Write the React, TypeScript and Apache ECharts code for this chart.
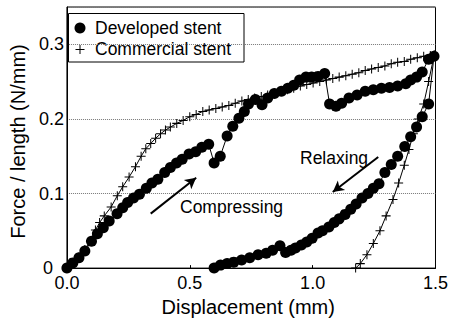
import React, { useEffect, useRef } from "react";
import * as echarts from "echarts";

// Developed stent: loading (compressing) then unloading (relaxing), [displacement mm, force N/mm]
const devLoading: number[][] = [
  [0, 0], [0.024, 0.007], [0.049, 0.014], [0.073, 0.023], [0.1, 0.036], [0.124, 0.046],
  [0.148, 0.054], [0.172, 0.063], [0.204, 0.073], [0.227, 0.081], [0.247, 0.088], [0.271, 0.094],
  [0.295, 0.099], [0.323, 0.107], [0.346, 0.114], [0.37, 0.119], [0.398, 0.128], [0.421, 0.135],
  [0.446, 0.141], [0.469, 0.146], [0.497, 0.153], [0.524, 0.156], [0.549, 0.162], [0.577, 0.166],
  [0.599, 0.141], [0.624, 0.15], [0.652, 0.177], [0.675, 0.19], [0.7, 0.201], [0.722, 0.21],
  [0.739, 0.22], [0.767, 0.226], [0.794, 0.219], [0.817, 0.228], [0.844, 0.234], [0.873, 0.237],
  [0.899, 0.241], [0.923, 0.245], [0.947, 0.252], [0.973, 0.256], [0.996, 0.256], [1.022, 0.257],
  [1.049, 0.261], [1.069, 0.22], [1.095, 0.217], [1.118, 0.221], [1.148, 0.228], [1.181, 0.232],
  [1.214, 0.237], [1.247, 0.239], [1.28, 0.241], [1.313, 0.242], [1.346, 0.244], [1.379, 0.247],
  [1.399, 0.252], [1.423, 0.256], [1.446, 0.263], [1.472, 0.28], [1.494, 0.284],
];
const devUnloading: number[][] = [
  [1.472, 0.22], [1.446, 0.203], [1.423, 0.189], [1.399, 0.176], [1.375, 0.163], [1.346, 0.15],
  [1.32, 0.139], [1.294, 0.128], [1.27, 0.113], [1.247, 0.107], [1.225, 0.1], [1.201, 0.094],
  [1.177, 0.086], [1.155, 0.079], [1.132, 0.072], [1.108, 0.066], [1.088, 0.061], [1.066, 0.055],
  [1.04, 0.05], [1.022, 0.047], [0.998, 0.04], [0.976, 0.035], [0.954, 0.031], [0.93, 0.027],
  [0.912, 0.024], [0.89, 0.021], [0.867, 0.03], [0.837, 0.024], [0.811, 0.02], [0.778, 0.018],
  [0.744, 0.014], [0.711, 0.011], [0.679, 0.008], [0.652, 0.006], [0.625, 0.004], [0.599, 0.0],
];

// Commercial stent
const comLoading: number[][] = [
  [0, 0], [0.025, 0.007], [0.049, 0.015], [0.073, 0.025], [0.096, 0.037], [0.116, 0.051],
  [0.133, 0.061], [0.152, 0.07], [0.18, 0.082], [0.205, 0.097], [0.227, 0.109], [0.253, 0.122],
  [0.279, 0.136], [0.302, 0.15], [0.321, 0.16], [0.341, 0.167], [0.361, 0.174], [0.381, 0.18],
  [0.401, 0.185], [0.421, 0.189], [0.447, 0.194], [0.473, 0.198], [0.5, 0.203], [0.526, 0.206],
  [0.553, 0.21], [0.579, 0.212], [0.606, 0.214], [0.632, 0.216], [0.659, 0.218], [0.685, 0.221],
  [0.712, 0.224], [0.738, 0.226], [0.764, 0.228], [0.791, 0.23], [0.817, 0.232], [0.844, 0.234],
  [0.87, 0.237], [0.897, 0.239], [0.923, 0.241], [0.95, 0.244], [0.976, 0.246], [1.002, 0.248],
  [1.029, 0.25], [1.056, 0.252], [1.082, 0.254], [1.108, 0.256], [1.135, 0.258], [1.161, 0.26],
  [1.188, 0.262], [1.214, 0.265], [1.24, 0.267], [1.267, 0.269], [1.294, 0.271], [1.32, 0.274],
  [1.346, 0.276], [1.373, 0.277], [1.399, 0.28], [1.426, 0.282], [1.452, 0.284], [1.479, 0.285],
  [1.495, 0.286],
];
const comUnloading: number[][] = [
  [1.472, 0.25], [1.452, 0.22], [1.43, 0.2], [1.41, 0.18], [1.392, 0.159], [1.373, 0.138],
  [1.35, 0.114], [1.327, 0.092], [1.299, 0.07], [1.274, 0.05], [1.247, 0.033], [1.221, 0.018],
  [1.194, 0.006], [1.175, 0.0],
];

// Annotation arrows [from, to] in data coordinates
const compressArrow: number[][] = [[0.341, 0.073], [0.526, 0.121]];
const relaxArrow: number[][] = [[1.267, 0.149], [1.082, 0.102]];

const seriesNames = ["Developed stent", "Commercial stent"];
const annotations = ["Compressing", "Relaxing"];
const xTicks = [0, 0.5, 1.0, 1.5];

const FONT = "'Liberation Sans', Arial, Helvetica, sans-serif";
const PLUS =
  "path://M3.55,0h0.9v3.55h3.55v0.9h-3.55v3.55h-0.9v-3.55h-3.55v-0.9h3.55z";

export default function App() {
  const ref = useRef<HTMLDivElement>(null);
  useEffect(() => {
    if (!ref.current) return;
    const chart = echarts.init(ref.current, undefined, { renderer: "svg" });
    chart.setOption({
      animation: false,
      backgroundColor: "#fff",
      textStyle: { fontFamily: FONT },
      grid: {
        left: 61,
        right: 12.5,
        top: 7,
        bottom: 46.7,
        show: true,
        borderColor: "#000",
        borderWidth: 1,
      },
      xAxis: {
        type: "value",
        min: 0,
        max: 1.5,
        interval: 0.5,
        name: "Displacement (mm)",
        nameLocation: "middle",
        nameGap: 24,
        nameTextStyle: { fontSize: 20, color: "#000", fontFamily: FONT, padding: [0, 6, 0, 0] },
        axisLine: { lineStyle: { color: "#000", width: 1 } },
        axisTick: { show: true, inside: true, length: 3, lineStyle: { color: "#000" } },
        axisLabel: {
          fontSize: 18,
          color: "#000",
          margin: 6,
          fontFamily: FONT,
          formatter: (v: number) => (xTicks.some((t) => Math.abs(t - v) < 1e-9) ? v.toFixed(1) : ""),
        },
        splitLine: { show: false },
      },
      yAxis: {
        type: "value",
        min: 0,
        max: 0.35,
        interval: 0.1,
        name: "Force / length (N/mm)",
        nameLocation: "middle",
        nameGap: 37,
        nameTextStyle: { fontSize: 20, color: "#000", fontFamily: FONT, padding: [0, 8, 0, 0] },
        axisLine: { show: true, lineStyle: { color: "#000", width: 1 } },
        axisTick: { show: false },
        axisLabel: {
          fontSize: 18,
          color: "#000",
          margin: 3,
          fontFamily: FONT,
          formatter: (v: number) => (v > 0.34 ? "" : v === 0 ? "{z|0}" : v.toFixed(1)),
          rich: { z: { fontSize: 18, color: "#000", fontFamily: FONT, padding: [0, 11, 0, 0] } },
        },
        splitLine: { show: true, lineStyle: { color: "#777", type: [1, 1], width: 1 } },
      },
      graphic: [
        {
          type: "group",
          z: 100,
          children: [
            {
              type: "rect",
              shape: { x: 68.5, y: 13.5, width: 175.5, height: 48.5 },
              style: { fill: "#fff", stroke: "#000", lineWidth: 1 },
            },
            {
              type: "circle",
              shape: { cx: 80, cy: 28, r: 5.5 },
              style: { fill: "#000" },
            },
            {
              type: "line",
              shape: { x1: 75.5, y1: 49.5, x2: 84.5, y2: 49.5 },
              style: { stroke: "#000", lineWidth: 1 },
            },
            {
              type: "line",
              shape: { x1: 80, y1: 45, x2: 80, y2: 54 },
              style: { stroke: "#000", lineWidth: 1 },
            },
            {
              type: "text",
              x: 95,
              y: 28,
              style: {
                text: seriesNames[0],
                fontSize: 17.5,
                fill: "#000",
                fontFamily: FONT,
                verticalAlign: "middle",
              },
            },
            {
              type: "text",
              x: 95,
              y: 49,
              style: {
                text: seriesNames[1],
                fontSize: 17.5,
                fill: "#000",
                fontFamily: FONT,
                verticalAlign: "middle",
              },
            },
          ],
        },
        {
          type: "text",
          x: 180,
          y: 207,
          style: {
            text: annotations[0],
            fontSize: 17.5,
            fill: "#000",
            fontFamily: FONT,
            verticalAlign: "middle",
          },
        },
        {
          type: "text",
          x: 300,
          y: 158,
          style: {
            text: annotations[1],
            fontSize: 17.5,
            fill: "#000",
            fontFamily: FONT,
            verticalAlign: "middle",
          },
        },
      ],
      series: [
        {
          name: seriesNames[0],
          type: "line",
          data: devLoading.concat(devUnloading),
          symbol: "circle",
          symbolSize: 11,
          showAllSymbol: true,
          itemStyle: { color: "#000" },
          lineStyle: { color: "#000", width: 1 },
          z: 2,
          markLine: {
            silent: true,
            symbol: ["none", "arrow"],
            symbolSize: [9, 11],
            label: { show: false },
            lineStyle: { color: "#000", width: 2, type: "solid" },
            data: [
              [{ coord: compressArrow[0] }, { coord: compressArrow[1] }],
              [{ coord: relaxArrow[0] }, { coord: relaxArrow[1] }],
            ],
          },
        },
        {
          name: seriesNames[1],
          type: "line",
          data: comLoading.concat(comUnloading),
          symbol: PLUS,
          symbolSize: 9,
          showAllSymbol: true,
          itemStyle: { color: "#000" },
          lineStyle: { color: "#000", width: 1 },
          z: 3,
        },
      ],
    });
    return () => chart.dispose();
  }, []);
  return (
    <div
      ref={ref}
      style={{ position: "fixed", left: 0, top: 0, width: 451, height: 322, background: "#fff" }}
    />
  );
}
